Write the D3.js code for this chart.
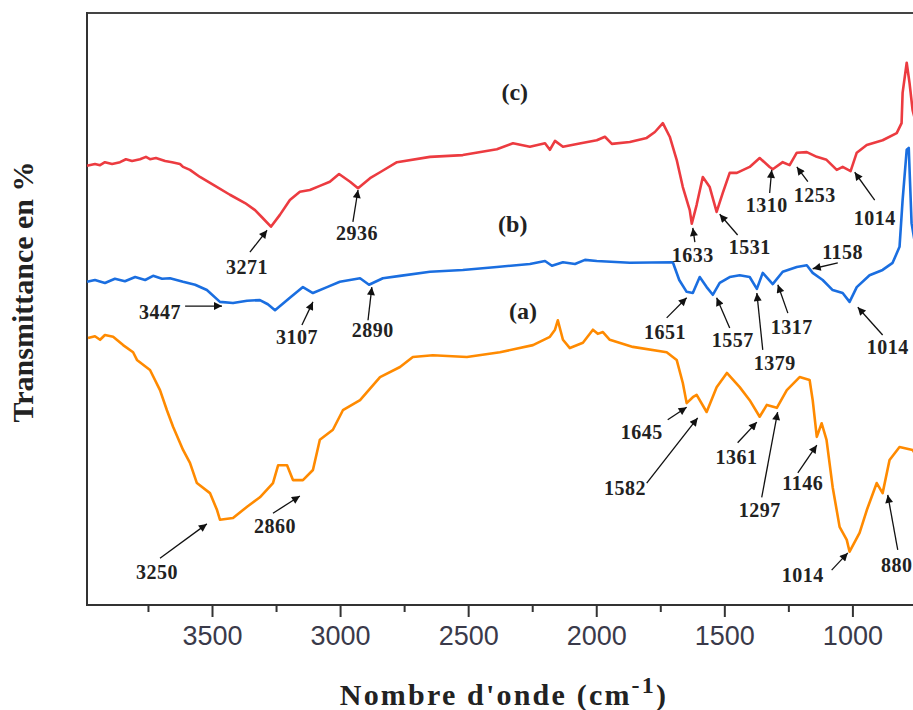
<!DOCTYPE html>
<html lang="fr">
<head>
  <meta charset="UTF-8">
  <title>Spectres IR (a), (b), (c)</title>
  <script src="https://d3js.org/d3.v7.min.js"></script>
  <style>
    body { margin: 0; background: #fff; }
    svg { display: block; }
  </style>
</head>
<body>
  <svg width="913" height="710"></svg>

  <script>
  // spectra: [nombre d'onde (cm-1), transmittance (u.a.)]
  const spectrumC = [
    [3988,74.2],[3957,74.5],[3937,74.3],[3918,74.8],[3890,74.5],[3859,74.8],[3836,75.3],[3812,75.0],
    [3781,75.3],[3758,75.7],[3742,75.3],[3719,75.5],[3683,75.0],[3656,74.8],[3625,74.5],[3613,74.0],
    [3586,73.5],[3547,72.3],[3488,70.8],[3430,69.3],[3371,67.9],[3332,66.7],[3305,65.5],[3270,63.9],
    [3235,65.9],[3196,68.4],[3157,69.8],[3118,70.1],[3079,70.8],[3040,71.5],[3004,72.8],[2961,71.5],
    [2930,70.4],[2883,72.1],[2844,73.1],[2778,74.8],[2649,75.7],[2521,76.0],[2388,77.0],[2325,78.0],
    [2259,77.4],[2200,78.0],[2181,76.9],[2161,78.4],[2130,77.4],[2060,78.0],[1998,78.5],[1966,79.1],
    [1939,77.9],[1869,78.2],[1803,78.9],[1771,79.9],[1740,81.4],[1713,79.1],[1686,75.2],[1662,70.6],
    [1635,66.7],[1627,64.4],[1608,67.6],[1584,72.3],[1557,70.6],[1530,66.4],[1506,69.6],[1479,73.0],
    [1451,73.0],[1401,74.0],[1362,75.5],[1323,74.0],[1311,73.6],[1272,74.8],[1245,74.3],[1217,76.4],
    [1178,76.5],[1139,75.7],[1101,75.2],[1061,73.5],[1038,74.0],[1007,73.3],[983,76.4],[944,77.7],
    [882,78.5],[827,79.7],[808,81.4],[804,86.5],[788,91.6],[777,88.2],[765,83.6],[745,80.2]
  ];

  const spectrumB = [
    [3988,54.6],[3957,54.9],[3918,54.4],[3879,55.1],[3840,54.7],[3800,55.4],[3761,54.9],[3730,55.6],
    [3695,55.1],[3664,55.2],[3613,54.6],[3566,54.1],[3520,53.2],[3469,51.2],[3418,51.0],[3363,51.4],
    [3313,51.5],[3282,50.8],[3254,49.8],[3196,51.9],[3145,53.7],[3106,52.7],[3051,53.7],[3001,54.6],
    [2922,55.2],[2887,54.1],[2833,55.2],[2766,55.6],[2649,56.3],[2521,56.6],[2388,57.1],[2259,57.6],
    [2200,58.1],[2173,57.3],[2130,57.9],[2083,57.6],[2044,58.3],[1998,58.1],[1869,57.8],[1701,57.9],
    [1676,54.9],[1647,52.9],[1623,52.7],[1596,55.4],[1569,53.7],[1545,52.4],[1518,54.4],[1479,55.4],
    [1440,55.7],[1401,55.4],[1373,53.4],[1350,56.1],[1311,54.2],[1272,56.3],[1217,57.1],[1178,57.4],
    [1155,56.1],[1116,54.9],[1077,53.2],[1038,52.7],[1011,51.2],[983,53.7],[933,55.7],[882,56.6],
    [843,57.8],[816,60.5],[804,68.4],[788,76.9],[780,77.2],[769,64.5],[745,58.3]
  ];

  const spectrumA = [
    [3984,45.1],[3957,45.4],[3937,44.8],[3918,45.6],[3886,45.3],[3847,43.9],[3808,42.7],[3793,41.4],
    [3742,39.7],[3703,36.3],[3676,32.9],[3652,30.1],[3613,26.2],[3586,24.0],[3559,20.6],[3508,18.9],
    [3480,16.0],[3469,14.4],[3418,14.7],[3363,16.6],[3313,18.2],[3262,20.6],[3242,23.6],[3207,23.6],
    [3184,21.1],[3145,21.1],[3106,22.8],[3079,27.9],[3028,29.6],[2989,32.9],[2922,34.6],[2844,38.5],
    [2766,40.2],[2716,41.9],[2638,42.2],[2505,41.9],[2376,42.7],[2247,43.9],[2181,45.3],[2161,46.5],
    [2150,48.1],[2130,44.8],[2103,43.4],[2052,44.3],[2013,46.5],[1994,45.8],[1974,46.1],[1947,44.8],
    [1857,43.6],[1725,42.7],[1686,41.4],[1662,37.5],[1647,34.1],[1623,35.1],[1608,35.5],[1569,32.6],
    [1530,36.8],[1490,39.2],[1440,36.8],[1401,34.6],[1362,31.8],[1334,33.8],[1295,33.3],[1256,36.3],
    [1206,38.5],[1167,38.0],[1155,34.6],[1139,28.4],[1120,30.7],[1101,27.9],[1077,19.9],[1050,13.2],
    [1022,11.0],[1011,9.0],[972,12.2],[944,16.0],[905,20.6],[882,18.9],[855,24.5],[816,26.7],
    [765,26.2],[745,24.8]
  ];

  // [label, tip x, tip y, tail x, tail y, text x, text y]
  const peaksC = [
    ["3271",3285,63.3,3352,59.6,3363,57.1],
    ["2936",2930,70.1,2950,64.7,2934,62.8],
    ["1633",1623,63.7,1615,61.3,1623,59.1],
    ["1531",1518,66.0,1448,62.5,1401,60.5],
    ["1310",1315,73.5,1323,69.6,1334,67.6],
    ["1253",1217,74.0,1174,71.5,1147,69.3],
    ["1014",991,73.1,913,68.4,913,65.4]
  ];
  const peaksB = [
    ["3447",3461,50.5,3605,50.5,3703,49.5],
    ["3107",3106,51.2,3149,47.3,3168,45.3],
    ["2890",2876,53.7,2891,48.1,2872,46.5],
    ["1651",1647,51.9,1725,48.5,1732,46.1],
    ["1557",1530,51.9,1479,46.8,1467,44.8],
    ["1379",1373,52.7,1350,43.1,1303,40.9],
    ["1317",1291,54.1,1252,49.3,1237,47.0],
    ["1158",1155,56.8,1057,57.8,1038,59.6],
    ["1014",979,50.3,882,45.6,862,43.6]
  ];
  const peaksA = [
    ["3250",3520,13.7,3703,7.9,3715,5.6],
    ["2860",3157,18.4,3262,15.5,3254,13.3],
    ["1645",1647,33.4,1721,31.3,1822,29.2],
    ["1582",1604,31.6,1803,20.6,1888,19.8],
    ["1361",1373,30.9,1448,27.4,1452,25.0],
    ["1297",1292,32.6,1354,18.2,1362,16.0],
    ["1146",1139,27.0,1213,22.3,1194,20.6],
    ["1014",1018,8.8,1081,5.9,1194,5.1],
    ["880",862,18.6,823,9.3,827,6.8]
  ];

  const seriesNames = ["(c)", "(b)", "(a)"];
  const seriesLabelPos = [[2318,86.7],[2326,64.5],[2286,49.8]];
  const majorTicks = [3500, 3000, 2500, 2000, 1500, 1000];
  const minorTicks = [3750, 3250, 2750, 2250, 1750, 1250, 750];

  const svg = d3.select("svg");
  const plotLeft = 87, plotTop = 13, plotBottom = 605, plotRight = 919;

  const x = d3.scaleLinear().domain([3988, 740]).range([plotLeft, plotRight]);
  const y = d3.scaleLinear().domain([0, 100]).range([plotBottom, plotTop]);

  const serif = "'Liberation Serif', 'Times New Roman', serif";

  // frame
  svg.append("line").attr("x1", plotLeft).attr("x2", plotRight).attr("y1", plotTop).attr("y2", plotTop)
    .attr("stroke", "#444").attr("stroke-width", 2);

  const minorAxis = svg.append("g").attr("transform", `translate(0,${plotBottom})`)
    .call(d3.axisBottom(x).tickValues(minorTicks).tickSize(7).tickFormat(""));
  const majorAxis = svg.append("g").attr("transform", `translate(0,${plotBottom})`)
    .call(d3.axisBottom(x).tickValues(majorTicks).tickSize(12).tickPadding(9).tickFormat(d3.format("d")));
  [minorAxis, majorAxis].forEach(g => {
    g.select(".domain").remove();
    g.selectAll(".tick line").attr("stroke", "#333").attr("stroke-width", 2);
  });
  majorAxis.selectAll(".tick text")
    .attr("font-family", "'Liberation Sans', Arial, sans-serif")
    .attr("font-size", "27px")
    .attr("fill", "#3a3a4a");

  svg.append("line").attr("x1", plotLeft).attr("x2", plotRight).attr("y1", plotBottom).attr("y2", plotBottom)
    .attr("stroke", "#333").attr("stroke-width", 2);
  svg.append("line").attr("x1", plotLeft).attr("x2", plotLeft).attr("y1", plotTop - 1).attr("y2", plotBottom + 1)
    .attr("stroke", "#333").attr("stroke-width", 2);

  // spectra
  const line = d3.line().x(d => x(d[0])).y(d => y(d[1]));
  const spectra = [
    { data: spectrumC, color: "#ec3b40" },
    { data: spectrumB, color: "#1a6ee0" },
    { data: spectrumA, color: "#ff8a00" }
  ];
  svg.selectAll("path.spectrum").data(spectra).join("path")
    .attr("class", "spectrum")
    .attr("d", d => line(d.data))
    .attr("fill", "none")
    .attr("stroke", d => d.color)
    .attr("stroke-width", 2.6)
    .attr("stroke-linejoin", "round");

  // arrow head
  svg.append("defs").append("marker")
    .attr("id", "head")
    .attr("viewBox", "0 0 10 10")
    .attr("refX", 10).attr("refY", 5)
    .attr("markerWidth", 11).attr("markerHeight", 8)
    .attr("markerUnits", "userSpaceOnUse")
    .attr("orient", "auto")
    .append("path").attr("d", "M0,0 L10,5 L0,10 z").attr("fill", "#111");

  const peaks = peaksC.concat(peaksB, peaksA);
  svg.selectAll("line.arrow").data(peaks).join("line")
    .attr("class", "arrow")
    .attr("x1", d => x(d[3])).attr("y1", d => y(d[4]))
    .attr("x2", d => x(d[1])).attr("y2", d => y(d[2]))
    .attr("stroke", "#111").attr("stroke-width", 1.3)
    .attr("marker-end", "url(#head)");

  svg.selectAll("text.peak").data(peaks).join("text")
    .attr("class", "peak")
    .attr("x", d => x(d[5])).attr("y", d => y(d[6]))
    .attr("dy", "0.35em")
    .attr("text-anchor", "middle")
    .attr("font-family", serif)
    .attr("font-weight", "bold")
    .attr("font-size", "20px")
    .attr("letter-spacing", "0.5px")
    .attr("fill", "#222")
    .text(d => d[0]);

  svg.selectAll("text.series").data(seriesNames).join("text")
    .attr("class", "series")
    .attr("x", (d, i) => x(seriesLabelPos[i][0]))
    .attr("y", (d, i) => y(seriesLabelPos[i][1]))
    .attr("dy", "0.35em")
    .attr("text-anchor", "middle")
    .attr("font-family", serif)
    .attr("font-weight", "bold")
    .attr("font-size", "24px")
    .attr("fill", "#222")
    .text(d => d);

  // axis titles
  const xt = svg.append("text")
    .attr("x", 504).attr("y", 705)
    .attr("text-anchor", "middle")
    .attr("font-family", serif)
    .attr("font-weight", "bold")
    .attr("font-size", "30px")
    .attr("letter-spacing", "2.2px")
    .attr("fill", "#222");
  xt.append("tspan").text("Nombre d'onde (cm");
  xt.append("tspan").attr("dy", -12).attr("font-size", "24px").text("-1");
  xt.append("tspan").attr("dy", 12).text(")");

  svg.append("text")
    .attr("transform", "translate(33,292) rotate(-90)")
    .attr("text-anchor", "middle")
    .attr("font-family", serif)
    .attr("font-weight", "bold")
    .attr("font-size", "30px")
    .attr("fill", "#222")
    .text("Transmittance en %");
  </script>
</body>
</html>
